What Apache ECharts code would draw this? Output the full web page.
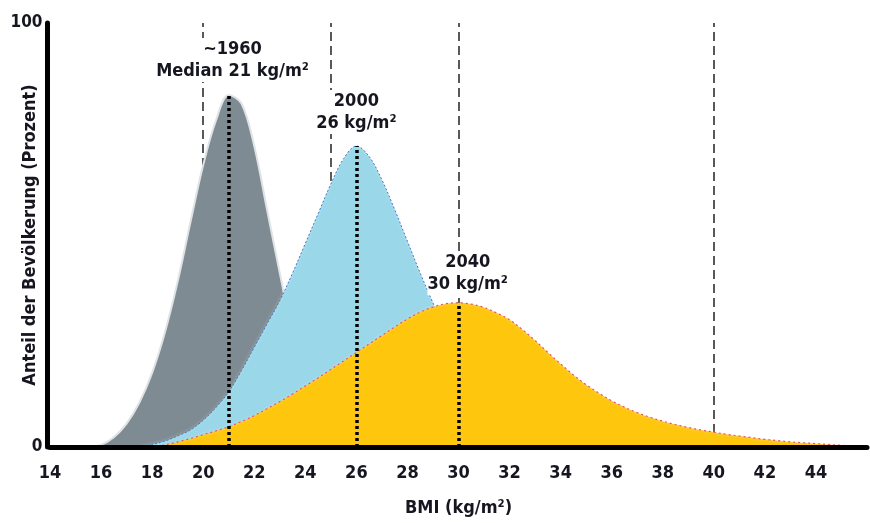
<!DOCTYPE html>
<html>
<head>
<meta charset="utf-8">
<script src="https://cdn.jsdelivr.net/npm/echarts@6.0.0/dist/echarts.min.js"></script>
<style>
  html, body { margin: 0; padding: 0; background: #fff; }
  #chart { width: 870px; height: 523px; }
</style>
</head>
<body>
<div id="chart"></div>
<script>
const bmi = [15, 15.5, 16, 16.5, 17, 17.5, 18, 18.5, 19, 19.5, 20, 20.5, 21, 21.5, 22, 22.5,
  23, 23.5, 24, 24.5, 25, 25.5, 26, 26.5, 27, 27.5, 28, 28.5, 29, 29.5, 30, 30.5, 31, 31.5,
  32, 32.5, 33, 33.5, 34, 34.5, 35, 35.5, 36, 36.5, 37, 37.5, 38, 38.5, 39, 39.5, 40, 40.5,
  41, 41.5, 42, 42.5, 43, 43.5, 44, 44.5, 45, 45.5, 46];

// Anteil der Bevoelkerung je BMI-Wert (null = Kurve nicht vorhanden)
const share1960 = [null, 0, 0.5, 2.3, 5.5, 10.5, 17.5, 27, 39, 53, 66.5, 77, 83, 81, 71, 56,
  41, 27, 17, 10, 6, 3, 1.5, 0.5, 0, null, null, null, null, null, null, null, null, null,
  null, null, null, null, null, null, null, null, null, null, null, null, null, null, null, null, null, null,
  null, null, null, null, null, null, null, null, null, null, null];
const share2000 = [null, null, null, null, null, 0, 0.6, 1.4, 2.6, 4, 6.3, 9.3, 13, 18, 23.5, 29,
  34.5, 41, 48, 55, 62, 68, 71, 68.5, 63, 56, 48.5, 41, 34, 27.5, 21.5, 16.5, 12.5, 9,
  6.5, 4.5, 3, 2, 1.3, 0.7, 0.3, 0, null, null, null, null, null, null, null, null, null, null,
  null, null, null, null, null, null, null, null, null, null, null];
const share2040 = [null, null, null, null, null, null, 0, 0.5, 1.2, 2, 2.9, 3.8, 4.8, 6, 7.4, 9,
  10.7, 12.5, 14.4, 16.3, 18.3, 20.3, 22.3, 24.3, 26.3, 28.3, 30.2, 31.8, 33, 33.8, 34, 33.7, 32.9, 31.6,
  30, 27.7, 25.1, 22.3, 19.6, 17, 14.7, 12.7, 10.9, 9.4, 8.1, 7, 6.1, 5.3, 4.6, 4, 3.5, 3,
  2.6, 2.2, 1.8, 1.5, 1.2, 1, 0.8, 0.6, 0.4, 0.2, 0.1];

const medians = [21, 26, 30];
const guideLines = [20, 25, 30, 40];
const xTicks = [14, 16, 18, 20, 22, 24, 26, 28, 30, 32, 34, 36, 38, 40, 42, 44];
const yTicks = [0, 100];
const notes = ['~1960\nMedian 21 kg/m²', '2000\n26 kg/m²', '2040\n30 kg/m²'];

const font = "'DejaVu Sans Condensed', 'Liberation Sans', sans-serif";
const ink = '#161620';

const shares = [share1960, share2000, share2040];
const toPoints = arr => bmi.map((x, i) => [x, arr[i]]);
const peakAt = i => shares[i][bmi.indexOf(medians[i])];

const areaSeries = (name, arr, z, fill, line) => ({
  name,
  type: 'line',
  z,
  smooth: 0.35,
  symbol: 'none',
  data: toPoints(arr),
  lineStyle: line,
  areaStyle: { color: fill, opacity: 1 }
});

const chart = echarts.init(document.getElementById('chart'), null, { renderer: 'canvas' });

chart.setOption({
  animation: false,
  backgroundColor: '#fff',
  grid: { left: 50, top: 23, width: 823, height: 424 },
  xAxis: {
    type: 'value',
    min: 14,
    max: 46,
    interval: 2,
    offset: 2,
    z: 10,
    name: 'BMI (kg/m²)',
    nameLocation: 'middle',
    nameGap: 50,
    nameMoveOverlap: false,
    nameTextStyle: { fontFamily: font, fontWeight: 'bold', fontSize: 18, color: ink },
    axisLine: { lineStyle: { color: '#000', width: 5 } },
    axisTick: { show: false },
    splitLine: { show: false },
    axisLabel: {
      margin: 15,
      fontFamily: font, fontWeight: 'bold', fontSize: 18, color: ink,
      formatter: v => (xTicks.includes(v) ? String(v) : '')
    }
  },
  yAxis: {
    type: 'value',
    min: yTicks[0],
    max: yTicks[1],
    interval: 100,
    offset: 2.5,
    z: 10,
    name: 'Anteil der Bevölkerung (Prozent)',
    nameLocation: 'middle',
    nameGap: 8,
    nameMoveOverlap: false,
    nameTextStyle: { fontFamily: font, fontWeight: 'bold', fontSize: 18, color: ink },
    axisLine: { show: true, lineStyle: { color: '#000', width: 5 } },
    axisTick: { show: false },
    splitLine: { show: false },
    axisLabel: { margin: 5, fontFamily: font, fontWeight: 'bold', fontSize: 17, color: ink }
  },
  series: [
    {
      name: 'guides',
      type: 'line',
      z: 1,
      symbol: 'none',
      data: [],
      markLine: {
        z: 1,
        silent: true,
        symbol: ['none', 'none'],
        label: { show: false },
        lineStyle: { color: '#222', width: 1.5, type: [9, 5] },
        data: guideLines.map(x => [{ coord: [x, 0] }, { coord: [x, 100] }])
      }
    },
    areaSeries('1960', share1960, 2, '#7f8b92', { color: '#dfe3e6', width: 2 }),
    areaSeries('2000', share2000, 3, '#9ad7e9', {
      color: '#3d78c4', width: 1, type: [2, 2], shadowColor: '#fff', shadowBlur: 3
    }),
    areaSeries('2040', share2040, 4, '#fec60d', {
      color: '#e8506f', width: 1.2, type: [2, 3], shadowColor: '#fff', shadowBlur: 3
    }),
    {
      name: 'medians',
      type: 'line',
      z: 6,
      symbol: 'none',
      data: [],
      markLine: {
        z: 10,
        silent: true,
        symbol: ['none', 'none'],
        label: { show: false },
        lineStyle: { color: '#000', width: 3.5, type: [3, 3] },
        data: medians.map((m, i) => [{ coord: [m, 0] }, { coord: [m, peakAt(i)] }])
      },
      markPoint: {
        z: 11,
        silent: true,
        symbol: 'rect',
        symbolSize: 0,
        label: {
          show: true,
          position: 'inside',
          fontFamily: font,
          fontWeight: 'bold',
          fontSize: 18,
          lineHeight: 22,
          color: ink,
          align: 'center',
          verticalAlign: 'middle',
          backgroundColor: '#fff',
          formatter: p => p.name
        },
        data: [
          { name: notes[0], coord: [21.15, 91.3] },
          { name: notes[1], coord: [26.0, 79.0] },
          { name: notes[2], coord: [30.36, 41.0] }
        ]
      }
    }
  ]
});
</script>
</body>
</html>
